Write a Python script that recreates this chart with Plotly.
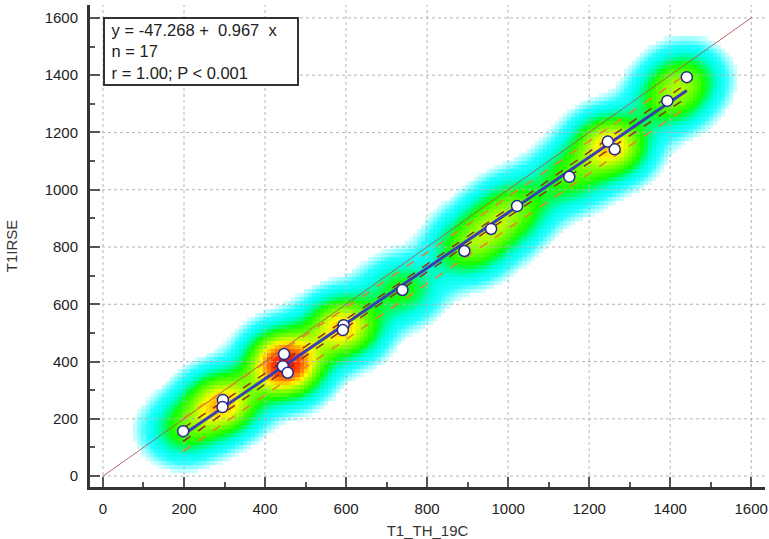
import numpy as np
import plotly.graph_objects as go

# Paired T1 measurements
x_th19c = [198, 296, 295, 447, 444, 456, 594, 592, 739, 892, 958, 1022, 1151, 1246, 1263, 1393, 1441]
y_irse = [157, 266, 241, 426, 384, 361, 527, 510, 650, 786, 863, 943, 1045, 1168, 1141, 1310, 1393]

# Regression coefficients (intercept, slope)
intercept = -47.268
slope = 0.967
t_crit = 2.131  # t(0.975, df=15)

identity = [0, 1600]
major_ticks = list(range(0, 1601, 200))
x_range = [-32, 1634]
y_range = [-38, 1645]

xs = np.array(x_th19c, float)
ys = np.array(y_irse, float)
n = len(xs)

# Confidence and prediction bands around the fitted line
resid = ys - (intercept + slope * xs)
s = np.sqrt(np.sum(resid ** 2) / (n - 2))
xm = xs.mean()
sxx = np.sum((xs - xm) ** 2)
xl = np.linspace(xs.min(), xs.max(), 100)
yl = intercept + slope * xl
ci = t_crit * s * np.sqrt(1 / n + (xl - xm) ** 2 / sxx)
pi = t_crit * s * np.sqrt(1 + 1 / n + (xl - xm) ** 2 / sxx)

# Point density surface (Gaussian kernel)
gx = np.arange(-40, 1650, 10.0)
gy = np.arange(-40, 1660, 14.0)
GX, GY = np.meshgrid(gx, gy)
hx, hy = 62.0, 74.0
dens = np.zeros_like(GX)
for px, py in zip(xs, ys):
    dens += np.exp(-0.5 * (((GX - px) / hx) ** 2 + ((GY - py) / hy) ** 2))
zmin, zmax = 0.14, 2.8
dens[dens < zmin] = np.nan

def pos(v):
    return (v - zmin) / (zmax - zmin)

colorscale = [
    [0.0, "rgb(215,255,255)"],
    [pos(0.33), "rgb(40,255,255)"],
    [pos(0.55), "rgb(0,255,230)"],
    [pos(0.8), "rgb(0,255,110)"],
    [pos(1.0), "rgb(20,255,0)"],
    [pos(1.5), "rgb(150,255,0)"],
    [pos(1.85), "rgb(255,250,0)"],
    [pos(2.2), "rgb(255,150,0)"],
    [pos(2.5), "rgb(255,70,0)"],
    [1.0, "rgb(255,20,0)"],
]

fig = go.Figure()
fig.add_trace(go.Heatmap(x=gx, y=gy, z=dens, zmin=zmin, zmax=zmax,
                         colorscale=colorscale, showscale=False,
                         hoverinfo="skip", zsmooth=False))

# Dotted grid drawn over the density surface
gxl, gyl = [], []
for v in major_ticks:
    gxl += [v, v, None]
    gyl += [y_range[0], y_range[1], None]
for v in major_ticks:
    gxl += [x_range[0], x_range[1], None]
    gyl += [v, v, None]
fig.add_trace(go.Scatter(x=gxl, y=gyl, mode="lines",
                         line=dict(color="#b4b4b4", width=1, dash="dot"),
                         hoverinfo="skip"))

fig.add_trace(go.Scatter(x=identity, y=identity, mode="lines",
                         line=dict(color="rgba(175,80,80,0.85)", width=1)))
for sign in (1, -1):
    fig.add_trace(go.Scatter(x=xl, y=yl + sign * pi, mode="lines",
                             line=dict(color="rgb(240,125,40)", width=1.5, dash="dash")))
    fig.add_trace(go.Scatter(x=xl, y=yl + sign * ci, mode="lines",
                             line=dict(color="rgb(150,45,30)", width=1.5, dash="dash")))
fig.add_trace(go.Scatter(x=xl, y=yl, mode="lines",
                         line=dict(color="rgb(60,60,180)", width=3)))
fig.add_trace(go.Scatter(x=x_th19c, y=y_irse, mode="markers",
                         marker=dict(size=11, color="white",
                                     line=dict(color="rgb(40,40,140)", width=1.5))))

axis_common = dict(
    showline=True, linewidth=3, linecolor="#333", mirror=False,
    showgrid=False, zeroline=False, automargin=False,
    ticks="inside", ticklen=10, tickwidth=1.5, tickcolor="#555",
    dtick=200, tick0=0,
    minor=dict(ticks="inside", ticklen=5, tickwidth=1.5, tickcolor="#555", dtick=100, showgrid=False),
    tickfont=dict(family="Liberation Sans, Arial", size=15, color="#222"),
    ticklabelstandoff=6,
)
title_font = dict(family="Liberation Sans, Arial", size=15, color="#333")

nb = "\u00a0"
box_lines = [
    f"{nb}y = -47.268 +{nb}{nb}0.967{nb}{nb}x{nb}{nb}{nb}{nb}",
    f"{nb}n = 17",
    f"{nb}r = 1.00; P &lt; 0.001",
]

fig.update_layout(
    width=769, height=539,
    margin=dict(l=90, r=4, t=5, b=52),
    paper_bgcolor="white", plot_bgcolor="white",
    showlegend=False,
    xaxis=dict(range=x_range, title=dict(text="T1_TH_19C", standoff=12, font=title_font), **axis_common),
    yaxis=dict(range=y_range, title=dict(text="T1IRSE", standoff=24, font=title_font), **axis_common),
    annotations=[dict(
        xref="paper", yref="paper", x=0.0193, y=0.975, xanchor="left", yanchor="top",
        text="<br>".join(box_lines),
        align="left", showarrow=False,
        font=dict(family="Liberation Sans, Arial", size=16.5, color="#222"),
        bgcolor="white", bordercolor="#333", borderwidth=2, borderpad=2,
    )],
)

fig.write_html("out.html")
